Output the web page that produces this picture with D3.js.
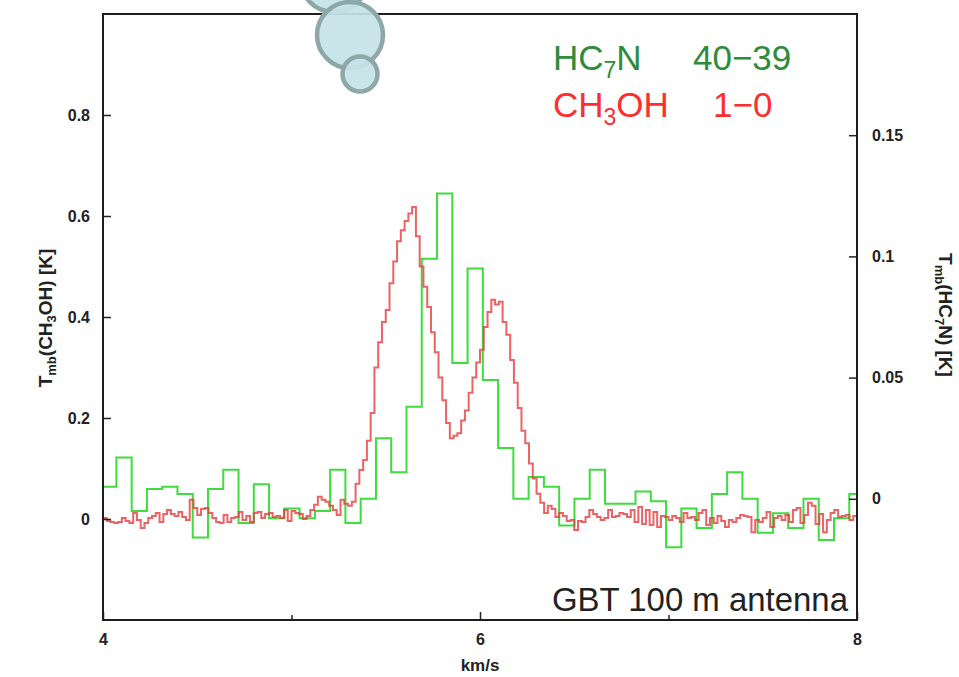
<!DOCTYPE html>
<html>
<head>
<meta charset="utf-8">
<script src="https://cdn.jsdelivr.net/npm/d3@7"></script>
<style>
  html, body { margin: 0; padding: 0; background: #fff; }
  svg { display: block; font-family: "Liberation Sans", Arial, sans-serif; }
</style>
</head>
<body>
<svg id="chart" width="959" height="677"></svg>
<script>
// ---- data ----
// CH3OH 1-0, channel edges start at 4.00 km/s, 0.02 km/s wide (left axis, K)
const ch3ohStart = 4.0;
const ch3ohStep = 0.02;
const ch3ohValues = [
  0.002, -0.004, -0.006, -0.008, -0.006, 0.002, -0.004, -0.008, 0.012, -0.002,
  -0.018, -0.008, 0.002, 0.006, 0.012, -0.006, 0.010, 0.018, 0.010, 0.006,
  0.014, 0.004, -0.002, 0.038, 0.022, 0.008, 0.020, 0.022, 0.012, 0.002,
  -0.006, -0.008, 0.008, -0.006, 0.002, 0.004, 0.014, -0.002, 0.006, -0.006,
  0.012, 0.014, 0.002, 0.010, 0.012, 0.004, 0.006, 0.002, 0.018, -0.004,
  0.016, 0.012, 0.010, 0.000, 0.006, 0.018, 0.028, 0.044, 0.038, 0.034,
  0.026, 0.018, 0.008, 0.038, 0.030, 0.026, 0.034, 0.070, 0.097, 0.117,
  0.155, 0.210, 0.300, 0.350, 0.390, 0.414, 0.467, 0.510, 0.550, 0.572,
  0.590, 0.605, 0.618, 0.560, 0.500, 0.460, 0.420, 0.370, 0.330, 0.280,
  0.235, 0.190, 0.160, 0.165, 0.170, 0.195, 0.215, 0.250, 0.280, 0.310,
  0.335, 0.380, 0.410, 0.434, 0.425, 0.430, 0.390, 0.365, 0.315, 0.270,
  0.220, 0.175, 0.150, 0.110, 0.080, 0.050, 0.032, 0.012, 0.026, 0.020,
  0.004, 0.012, 0.006, -0.004, -0.002, -0.022, -0.004, -0.006, 0.004, 0.018,
  0.010, 0.004, -0.002, 0.002, 0.018, 0.004, 0.006, 0.012, 0.010, 0.004,
  0.018, -0.006, 0.024, -0.010, 0.018, -0.012, 0.014, -0.016, 0.006, 0.004,
  -0.002, 0.006, 0.002, -0.006, 0.012, 0.002, 0.004, -0.002, 0.012, 0.018,
  -0.012, 0.002, -0.008, 0.006, -0.004, -0.016, -0.002, -0.006, 0.002, 0.008,
  0.006, 0.004, -0.026, -0.002, -0.006, 0.002, 0.014, -0.016, 0.002, 0.006,
  -0.002, 0.008, -0.006, 0.018, 0.022, -0.008, 0.008, 0.032, 0.026, -0.010,
  0.010, -0.026, -0.002, 0.012, 0.018, 0.004, 0.006, 0.008, -0.002, 0.006
];

// HC7N 40-39, channel edges start at 3.99 km/s, 0.081 km/s wide (right axis, K)
const hc7nStart = 3.99;
const hc7nStep = 0.081;
const hc7nValues = [
  0.005, 0.017, -0.005, 0.004, 0.005, 0.002, -0.016, 0.004, 0.012, -0.010,
  0.006, -0.008, -0.004, -0.008, -0.005, 0.012, -0.010, 0.000, 0.025, 0.011,
  0.038, 0.099, 0.126, 0.056, 0.095, 0.049, 0.021, 0.000, 0.009, 0.005,
  -0.011, 0.000, 0.012, -0.002, -0.002, 0.003, -0.001, -0.020, -0.004, -0.012,
  0.002, 0.011, 0.000, -0.014, -0.006, -0.012, 0.000, -0.017, -0.008, 0.002
];

const xDomain = [4, 8];
const leftDomain = [-0.2, 1.0];
const rightDomain = [-0.05, 0.2];
const xMajorTicks = [4, 6, 8];
const xMinorTicks = [5, 7];
const leftTicks = [0, 0.2, 0.4, 0.6, 0.8];
const rightTicks = [0, 0.05, 0.1, 0.15];

// ---- layout ----
const plot = { left: 103, right: 857, top: 14, bottom: 620 };

const svg = d3.select("#chart");

const x = d3.scaleLinear().domain(xDomain).range([plot.left, plot.right]);
const yL = d3.scaleLinear().domain(leftDomain).range([plot.bottom, plot.top]);
const yR = d3.scaleLinear().domain(rightDomain).range([plot.bottom, plot.top]);

svg.append("clipPath").attr("id", "plotclip")
  .append("rect")
  .attr("x", plot.left).attr("y", plot.top)
  .attr("width", plot.right - plot.left)
  .attr("height", plot.bottom - plot.top);

// turn channel values into step edges (last channel is closed at its right edge)
function stepPoints(start, step, values) {
  let pts = values.map((v, i) => [start + i * step, v]);
  pts.push([start + values.length * step, values[values.length - 1]]);
  return pts;
}

const hc7nLine = d3.line()
  .x(d => x(d[0])).y(d => yR(d[1]))
  .curve(d3.curveStepAfter);

const ch3ohLine = d3.line()
  .x(d => x(d[0])).y(d => yL(d[1]))
  .curve(d3.curveStepAfter);

const lines = svg.append("g").attr("clip-path", "url(#plotclip)");

lines.append("path")
  .attr("d", hc7nLine(stepPoints(hc7nStart, hc7nStep, hc7nValues)))
  .attr("fill", "none")
  .attr("stroke", "#3fdc3f")
  .attr("stroke-width", 2);

lines.append("path")
  .attr("d", ch3ohLine(stepPoints(ch3ohStart, ch3ohStep, ch3ohValues)))
  .attr("fill", "none")
  .attr("stroke", "#e63c3c")
  .attr("stroke-opacity", 0.8)
  .attr("stroke-width", 2);

// ---- axes ----
function styleAxis(g) {
  g.select(".domain").remove();
  g.selectAll(".tick line").attr("stroke", "#222").attr("stroke-width", 1.5);
  g.selectAll(".tick text")
    .attr("fill", "#222")
    .attr("font-size", 16)
    .attr("font-weight", "bold")
    .attr("font-family", "Liberation Sans, Arial, sans-serif");
}

svg.append("g")
  .attr("transform", `translate(${plot.left},0)`)
  .call(d3.axisLeft(yL).tickValues(leftTicks).tickSizeInner(-8).tickSizeOuter(0)
    .tickPadding(13).tickFormat(d3.format("")))
  .call(styleAxis);

svg.append("g")
  .attr("transform", `translate(${plot.right},0)`)
  .call(d3.axisRight(yR).tickValues(rightTicks).tickSizeInner(-8).tickSizeOuter(0)
    .tickPadding(15).tickFormat(d3.format("")))
  .call(styleAxis);

svg.append("g")
  .attr("transform", `translate(0,${plot.bottom})`)
  .call(d3.axisBottom(x).tickValues(xMajorTicks).tickSizeInner(-8).tickSizeOuter(0)
    .tickPadding(14).tickFormat(d3.format("d")))
  .call(styleAxis);

svg.append("g")
  .attr("transform", `translate(0,${plot.bottom})`)
  .call(d3.axisBottom(x).tickValues(xMinorTicks).tickSizeInner(-5).tickSizeOuter(0)
    .tickFormat(""))
  .call(styleAxis);

// frame
svg.append("rect")
  .attr("x", plot.left).attr("y", plot.top)
  .attr("width", plot.right - plot.left)
  .attr("height", plot.bottom - plot.top)
  .attr("fill", "none")
  .attr("stroke", "#1e1e1e")
  .attr("stroke-width", 2);

// axis titles
svg.append("text")
  .attr("x", (plot.left + plot.right) / 2)
  .attr("y", 671)
  .attr("text-anchor", "middle")
  .attr("font-size", 17)
  .attr("font-weight", "bold")
  .attr("fill", "#222")
  .text("km/s");

function subTitle(sel, parts) {
  parts.forEach(p => {
    sel.append("tspan")
      .attr("font-size", p.sub ? 13 : 19)
      .attr("baseline-shift", p.sub ? "-30%" : null)
      .text(p.t);
  });
}

let lt = svg.append("text")
  .attr("transform", "translate(52,318) rotate(-90)")
  .attr("text-anchor", "middle")
  .attr("font-weight", "bold")
  .attr("fill", "#222");
subTitle(lt, [{ t: "T" }, { t: "mb", sub: true }, { t: "(CH" }, { t: "3", sub: true }, { t: "OH) [K]" }]);

let rt = svg.append("text")
  .attr("transform", "translate(939,315) rotate(90)")
  .attr("text-anchor", "middle")
  .attr("font-weight", "bold")
  .attr("fill", "#222");
subTitle(rt, [{ t: "T" }, { t: "mb", sub: true }, { t: "(HC" }, { t: "7", sub: true }, { t: "N) [K]" }]);

// ---- legend ----
function legendLine(y, color, parts, xLabel, label) {
  let t = svg.append("text")
    .attr("x", 553).attr("y", y)
    .attr("font-size", 35)
    .attr("fill", color);
  parts.forEach(p => {
    t.append("tspan")
      .attr("font-size", p.sub ? 23 : 35)
      .attr("baseline-shift", p.sub ? "-35%" : null)
      .text(p.t);
  });
  svg.append("text")
    .attr("x", xLabel).attr("y", y)
    .attr("font-size", 35)
    .attr("fill", color)
    .text(label);
}
legendLine(70, "#2e8b3c", [{ t: "HC" }, { t: "7", sub: true }, { t: "N" }], 693, "40\u221239");
legendLine(117, "#ff2e2e", [{ t: "CH" }, { t: "3", sub: true }, { t: "OH" }], 713, "1\u22120");

svg.append("text")
  .attr("x", 848).attr("y", 611)
  .attr("text-anchor", "end")
  .attr("font-size", 33)
  .attr("textLength", 296)
  .attr("lengthAdjust", "spacingAndGlyphs")
  .attr("fill", "#222")
  .text("GBT 100 m antenna");

// ---- bubbles over the top edge ----
const bubbles = [
  { cx: 334, cy: -22, r: 34 },
  { cx: 350, cy: 35, r: 33 },
  { cx: 360, cy: 74, r: 17.5 }
];
svg.append("g").selectAll("circle")
  .data(bubbles)
  .join("circle")
  .attr("cx", d => d.cx).attr("cy", d => d.cy).attr("r", d => d.r)
  .attr("fill", "#c5e3e7")
  .attr("fill-opacity", 0.92)
  .attr("stroke", "#8ea8aa")
  .attr("stroke-width", 4.5);
</script>
</body>
</html>
